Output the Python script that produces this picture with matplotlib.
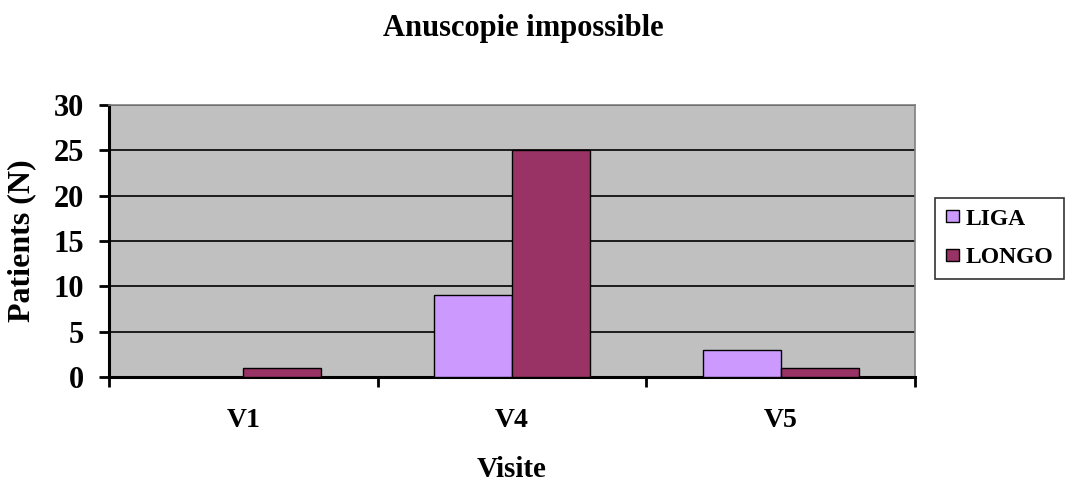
import matplotlib.pyplot as plt
import numpy as np

visites = ['V1', 'V4', 'V5']
liga = [0, 9, 3]
longo = [1, 25, 1]
yticks = [0, 5, 10, 15, 20, 25, 30]

plt.rcParams['font.family'] = 'Liberation Serif'
plt.rcParams['font.weight'] = 'bold'

fig = plt.figure(figsize=(10.65, 4.86), dpi=100)
ax = fig.add_axes([0.1023, 0.2243, 0.7568, 0.5597])
ax.set_facecolor('#C0C0C0')

x = np.arange(len(visites))
w = 0.29
ax.bar(x - w / 2, liga, w, color='#CC99FF', edgecolor='black', linewidth=1, label='LIGA', zorder=3)
ax.bar(x + w / 2, longo, w, color='#993366', edgecolor='black', linewidth=1, label='LONGO', zorder=3)

ax.set_xlim(-0.5, 2.5)
ax.set_ylim(0, 30)
ax.set_yticks(yticks)
ax.yaxis.grid(True, color='black', linewidth=1.2, zorder=1)
ax.set_axisbelow(True)

# category boundaries as ticks, labels in the middle
ax.set_xticks([-0.5, 0.5, 1.5, 2.5])
ax.set_xticklabels([])
ax.set_xticks(x, minor=True)
ax.set_xticklabels(visites, minor=True, fontsize=20, fontweight='bold')
ax.tick_params(axis='x', which='minor', length=0, pad=22)
ax.tick_params(axis='x', which='major', length=7.2, width=2, direction='out')
ax.tick_params(axis='y', length=7.2, width=2, direction='out', labelsize=22, pad=11)

for s in ['left', 'bottom']:
    ax.spines[s].set_linewidth(2.2)
    ax.spines[s].set_color('black')
for s in ['top', 'right']:
    ax.spines[s].set_linewidth(1.2)
    ax.spines[s].set_color('#808080')

ax.set_ylabel('Patients (N)', fontsize=23, fontweight='bold', labelpad=12)
ax.set_xlabel('Visite', fontsize=21, fontweight='bold', labelpad=17)
fig.text(0.491, 0.942, 'Anuscopie impossible', ha='center', va='center', fontsize=22, fontweight='bold')

leg = fig.legend(loc='upper left', bbox_to_anchor=(0.878, 0.5926), frameon=True, fancybox=False,
                 edgecolor='black', prop={'weight': 'bold', 'size': 17},
                 handlelength=0.55, handleheight=0.4, handletextpad=0.3, borderpad=0.45,
                 labelspacing=0.75, borderaxespad=0)
leg.get_frame().set_linewidth(1.2)

fig.savefig('out.png', dpi=100)
